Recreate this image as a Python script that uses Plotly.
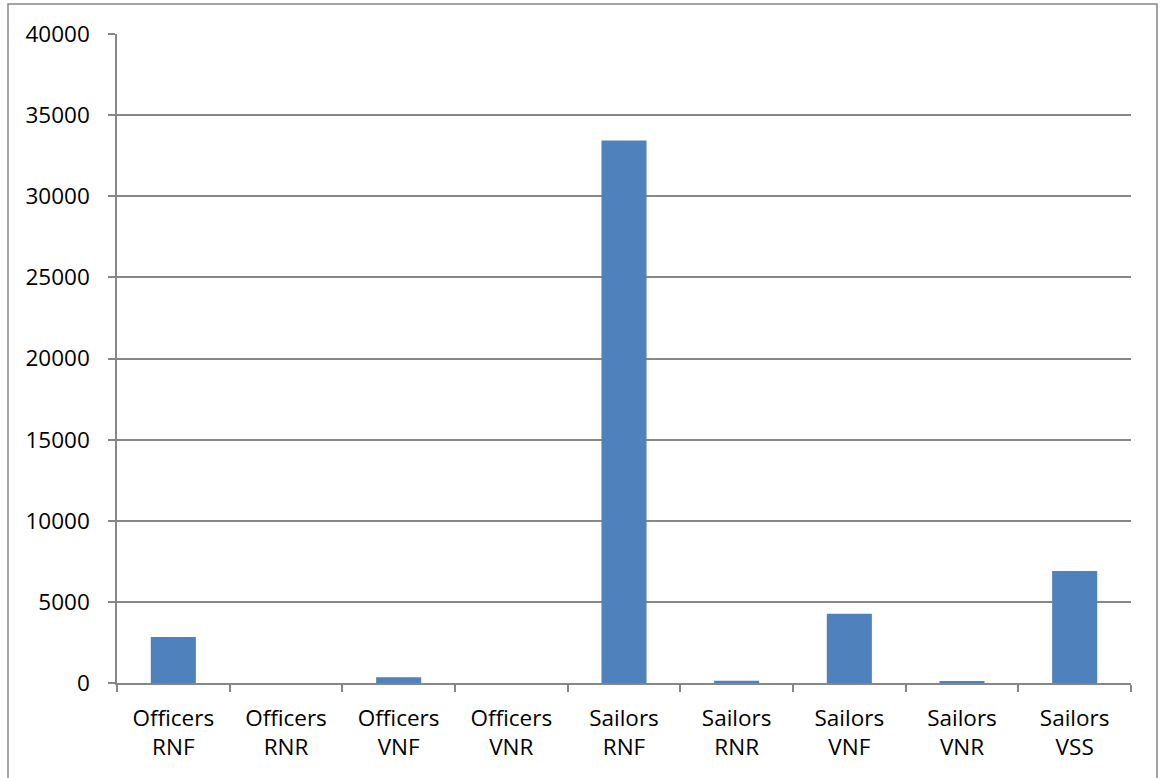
import plotly.graph_objects as go

categories = ["Officers<br>RNF", "Officers<br>RNR", "Officers<br>VNF", "Officers<br>VNR",
              "Sailors<br>RNF", "Sailors<br>RNR", "Sailors<br>VNF", "Sailors<br>VNR", "Sailors<br>VSS"]
counts = [2840, 0, 350, 0, 33440, 140, 4270, 80, 6900]
y_ticks = [0, 5000, 10000, 15000, 20000, 25000, 30000, 35000, 40000]

W, H = 1160, 778
ML, MR, MT, MB = 117, 29, 34, 95
pw, ph = W - ML - MR, H - MT - MB

def px_x(x):
    return (x - ML) / pw

def px_y(y):
    return (H - MB - y) / ph

grey = "#868686"
font = "Open Sans, Liberation Sans, sans-serif"

fig = go.Figure(go.Bar(
    x=categories,
    y=counts,
    marker=dict(color="#4F81BD", line=dict(width=0)),
))

fig.update_layout(
    width=W, height=H,
    margin=dict(l=ML, r=MR, t=MT, b=MB),
    paper_bgcolor="white", plot_bgcolor="white",
    bargap=0.6,
    showlegend=False,
    font=dict(family=font, size=22.5, color="black"),
    shapes=[dict(type="rect", xref="paper", yref="paper",
                 x0=px_x(8), x1=px_x(1157), y0=px_y(800), y1=px_y(4),
                 line=dict(color=grey, width=1.5), layer="below")],
)

fig.update_xaxes(
    showline=True, linecolor=grey, linewidth=1.5,
    ticks="outside", tickson="boundaries", ticklen=7, tickcolor=grey, tickwidth=1.5,
    showgrid=False,
    ticklabelstandoff=14,
    tickfont=dict(family=font, size=22.5, color="black"),
)
fig.update_yaxes(
    range=[0, 40000], tickvals=y_ticks, ticktext=[str(v) for v in y_ticks],
    showline=True, linecolor=grey, linewidth=1.5,
    ticks="outside", ticklen=7, tickcolor=grey, tickwidth=1.5,
    showgrid=True, gridcolor=grey, gridwidth=1.5,
    zeroline=False,
    ticklabelstandoff=14,
    tickfont=dict(family=font, size=22.5, color="black"),
)

fig.write_html("out.html")
